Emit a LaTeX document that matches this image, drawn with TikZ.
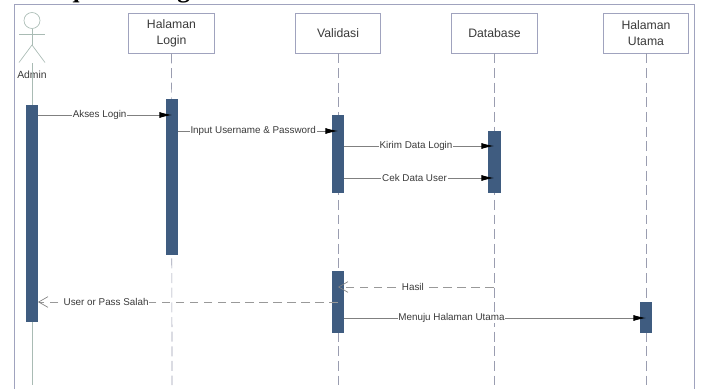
\documentclass[tikz,border=0pt]{standalone}
\usepackage{fontspec}
\setmainfont{Liberation Sans}
\newfontfamily\titlefont{Liberation Serif}
\usetikzlibrary{arrows.meta}
\definecolor{barblue}{HTML}{3F5C80}
\definecolor{framegray}{HTML}{A0A3BE}
\definecolor{lifegray}{HTML}{9A9DB0}
\definecolor{actorgray}{HTML}{A9BBB4}
\definecolor{textgray}{HTML}{3A3A3A}
\newcommand{\pxu}{0.0264cm}
\tikzset{
	headbox/.style={rectangle, draw=framegray, fill=white, line width=0.6pt, text=textgray, font=\fontsize{9.2}{12}\selectfont, align=center, minimum width=85.5*\pxu, minimum height=40*\pxu, inner sep=0pt},
	lifeline/.style={draw=lifegray, line width=0.5pt, dash pattern=on 7.5pt off 3.5pt},
	activebar/.style={rectangle, draw=none, fill=barblue, minimum width=12.5*\pxu, inner sep=0pt},
	msgsolid/.style={draw=gray, line width=0.6pt, -{Latex[black, length=9.5pt, width=4.5pt]}},
	msgdash/.style={draw=gray!80, line width=0.5pt, dash pattern=on 6.5pt off 4pt, -{Straight Barb[length=7pt, width=8pt, gray]}},
	msglabel/.style={fill=white, text=textgray, font=\fontsize{7.4}{9}\selectfont, inner sep=0.6pt},
	actorline/.style={draw=actorgray, line width=0.5pt}
}
\begin{document}
\begin{tikzpicture}[x=\pxu, y=-\pxu, line cap=butt]
	\useasboundingbox (0, 0) rectangle (701, 389);
	% Frame
	\draw [draw=framegray, line width=0.6pt] (14, 389) -- (14, 4) -- (694, 4) -- (694, 389);
	\node [font=\titlefont\bfseries\fontsize{19}{21}\selectfont, anchor=base west, inner sep=0pt] (title) at (40, -2.5) {Sequence Login};
	% Head boxes
	\node [headbox] (head-login) at (171.5, 33) {Halaman\\Login};
	\node [headbox] (head-validasi) at (338, 33) {Validasi};
	\node [headbox] (head-database) at (494.5, 33) {Database};
	\node [headbox] (head-utama) at (646, 33) {Halaman\\Utama};
	% Actor
	\node [circle, draw=actorgray, fill=white, line width=0.5pt, minimum size=16*\pxu, inner sep=0pt] (actor-head) at (32, 20.5) {};
	\coordinate (actor-hip) at (32, 45);
	\coordinate (actor-arm-l) at (19, 34.5);
	\coordinate (actor-arm-r) at (45, 34.5);
	\coordinate (actor-foot-l) at (19, 62.5);
	\coordinate (actor-foot-r) at (45, 62.5);
	\draw [actorline] (actor-head) -- (actor-hip);
	\draw [actorline] (actor-arm-l) -- (actor-arm-r);
	\draw [actorline] (actor-foot-l) -- (actor-hip) -- (actor-foot-r);
	\node [text=textgray, font=\fontsize{7.8}{9}\selectfont, inner sep=0pt] (actor-name) at (32, 74.5) {Admin};
	% Life lines
	\coordinate (start-admin) at (32, 63);
	\coordinate (end-admin) at (32, 385);
	\coordinate (end-login) at (172, 385);
	\coordinate (end-validasi) at (338, 385);
	\coordinate (end-database) at (494.5, 385);
	\coordinate (end-utama) at (646, 385);
	\draw [actorline] (start-admin) -- (end-admin);
	\foreach \a in {login, validasi, database, utama}
	  \draw [lifeline] (head-\a) -- (end-\a);
	% Activation bars
	\node [activebar, minimum height=217*\pxu] (bar-admin) at (32, 213.5) {};
	\node [activebar, minimum height=156*\pxu] (bar-login) at (172, 177) {};
	\node [activebar, minimum height=78*\pxu] (bar-validasi-1) at (338, 154) {};
	\node [activebar, minimum height=62*\pxu] (bar-validasi-2) at (338, 302) {};
	\node [activebar, minimum height=62*\pxu] (bar-database) at (494.5, 162) {};
	\node [activebar, minimum height=31*\pxu] (bar-utama) at (646, 317.5) {};
	% Message end points
	\coordinate (akses-a) at (38, 115);
	\coordinate (akses-b) at (172, 115);
	\coordinate (input-a) at (178, 131);
	\coordinate (input-b) at (338, 131);
	\coordinate (kirim-a) at (344, 146);
	\coordinate (kirim-b) at (494, 146);
	\coordinate (cek-a) at (344, 178);
	\coordinate (cek-b) at (494, 178);
	\coordinate (hasil-a) at (494, 287);
	\coordinate (hasil-b) at (338, 287);
	\coordinate (salah-a) at (338, 302);
	\coordinate (salah-b) at (38, 302);
	\coordinate (menuju-a) at (344, 318);
	\coordinate (menuju-b) at (646, 318);
	% Messages
	\draw [msgsolid] (akses-a) -- node [msglabel, pos=0.46] (lbl-akses) {Akses Login} (akses-b);
	\draw [msgsolid] (input-a) -- node [msglabel, pos=0.47] (lbl-input) {Input Username \& Password} (input-b);
	\draw [msgsolid] (kirim-a) -- node [msglabel, pos=0.48] (lbl-kirim) {Kirim Data Login} (kirim-b);
	\draw [msgsolid] (cek-a) -- node [msglabel, pos=0.47] (lbl-cek) {Cek Data User} (cek-b);
	\draw [msgdash] (hasil-a) -- node [msglabel, pos=0.52] (lbl-hasil) {Hasil} (hasil-b);
	\draw [msgdash] (salah-a) -- node [msglabel, pos=0.773] (lbl-salah) {User or Pass Salah} (salah-b);
	\draw [msgsolid] (menuju-a) -- node [msglabel, pos=0.356] (lbl-menuju) {Menuju Halaman Utama} (menuju-b);
\end{tikzpicture}
\end{document}
